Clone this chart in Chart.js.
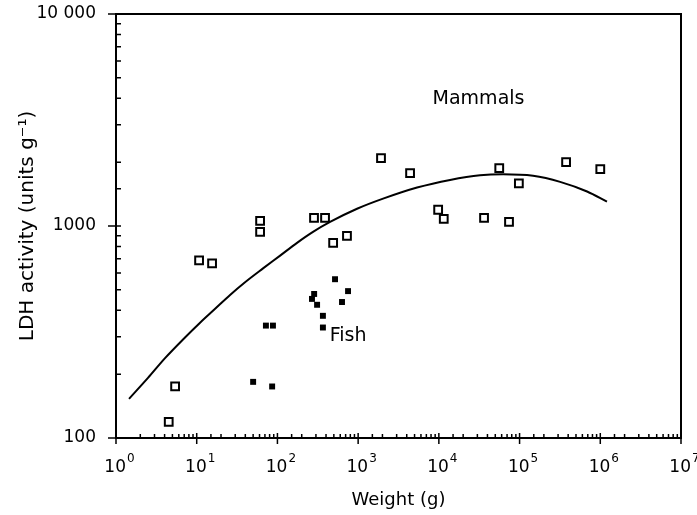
<!DOCTYPE html>
<html>
<head>
<meta charset="utf-8">
<script src="https://cdn.jsdelivr.net/npm/chart.js@4.4.0/dist/chart.umd.min.js"></script>
<style>
  html, body { margin: 0; padding: 0; background: #fff; }
  #wrap { width: 697px; height: 515px; }
</style>
</head>
<body>
<div id="wrap"><canvas id="chart"></canvas></div>
<script>
'use strict';

// mammals (open squares)
let mammalWeight = [4.5, 5.4, 10.7, 15.5, 61, 61, 284, 389, 490, 727, 1920, 4400, 9800, 11500, 36300, 56000, 74000, 98000, 377000, 1000000];
let mammalLDH = [119, 175, 688, 666, 1057, 938, 1092, 1092, 833, 898, 2091, 1774, 1193, 1080, 1092, 1874, 1045, 1588, 2002, 1853];

// fish (filled squares)
let fishWeight = [50, 86, 72, 88, 517, 750, 285, 268, 310, 631, 366, 366];
let fishLDH = [184, 175, 339, 339, 561, 493, 478, 453, 425, 438, 377, 332];

// fitted curve
let curveWeight = [1.45, 2.49, 4.05, 7.16, 11.0, 16.9, 25.9, 39.7, 66.3, 108, 175, 276, 449, 969, 2036, 5370, 13770, 32400, 62500, 147000, 318000, 686000, 1210000];
let curveLDH = [153, 192, 238, 298, 350, 407, 473, 543, 631, 725, 833, 938, 1045, 1206, 1346, 1519, 1650, 1735, 1754, 1725, 1615, 1454, 1302];

let xTickExp = ['0', '1', '2', '3', '4', '5', '6', '7'];
let yTickLabels = ['100', '1000', '10 000'];

let FONT = '"DejaVu Sans", Verdana, sans-serif';

function toPoints(xs, ys) {
  let pts = [];
  for (let i = 0; i < xs.length; i++) {
    pts.push({ x: xs[i], y: ys[i] });
  }
  return pts;
}

function isDecade(v) {
  let l = Math.log10(v);
  return Math.abs(l - Math.round(l)) < 1e-6;
}

// frame, inward ticks, x labels with superscripts, in-plot notes
const framePlugin = {
  id: 'frame',
  afterDraw(chart) {
    const ctx = chart.ctx;
    const a = chart.chartArea;
    const xs = chart.scales.x;
    const ys = chart.scales.y;
    ctx.save();
    ctx.strokeStyle = '#000';
    ctx.lineWidth = 2;
    ctx.strokeRect(a.left, a.top, a.right - a.left, a.bottom - a.top);

    ctx.lineWidth = 1.5;
    ctx.beginPath();
    xs.ticks.forEach(t => {
      const px = xs.getPixelForValue(t.value);
      if (isDecade(t.value)) {
        ctx.moveTo(px, a.bottom - 5);
        ctx.lineTo(px, a.bottom + 6);
      } else {
        ctx.moveTo(px, a.bottom);
        ctx.lineTo(px, a.bottom - 4);
      }
    });
    ys.ticks.forEach(t => {
      const py = ys.getPixelForValue(t.value);
      if (isDecade(t.value)) {
        ctx.moveTo(a.left - 8, py);
        ctx.lineTo(a.left + 5, py);
      } else {
        ctx.moveTo(a.left, py);
        ctx.lineTo(a.left + 5, py);
      }
    });
    ctx.stroke();

    // x tick labels: 10 with raised exponent
    ctx.fillStyle = '#000';
    ctx.textBaseline = 'alphabetic';
    for (let i = 0; i < xTickExp.length; i++) {
      const px = xs.getPixelForValue(Math.pow(10, i));
      ctx.font = '17px ' + FONT;
      const w1 = ctx.measureText('10').width;
      ctx.font = '12px ' + FONT;
      const w2 = ctx.measureText(xTickExp[i]).width;
      const left = px - (w1 + w2) / 2 + 3;
      ctx.font = '17px ' + FONT;
      ctx.textAlign = 'left';
      ctx.fillText('10', left, 472);
      ctx.font = '12px ' + FONT;
      ctx.fillText(xTickExp[i], left + w1 + 1, 462);
    }

    // notes in the plot
    ctx.font = '19px ' + FONT;
    ctx.textAlign = 'center';
    ctx.textBaseline = 'middle';
    ctx.fillText('Mammals', xs.getPixelForValue(31000), ys.getPixelForValue(3980));
    ctx.fillText('Fish', xs.getPixelForValue(750), ys.getPixelForValue(301));
    ctx.restore();
  }
};

const ctx = document.getElementById('chart');

let config = {
  type: 'scatter',
  data: {
    datasets: [
      {
        label: 'fit',
        data: toPoints(curveWeight, curveLDH),
        showLine: true,
        borderColor: '#000',
        borderWidth: 2,
        pointRadius: 0,
        cubicInterpolationMode: 'monotone',
        fill: false
      },
      {
        label: 'Mammals',
        data: toPoints(mammalWeight, mammalLDH),
        pointStyle: 'rect',
        pointRadius: 5.5,
        backgroundColor: '#fff',
        borderColor: '#000',
        borderWidth: 2
      },
      {
        label: 'Fish',
        data: toPoints(fishWeight, fishLDH),
        pointStyle: 'rect',
        pointRadius: 4.2,
        backgroundColor: '#000',
        borderColor: '#000',
        borderWidth: 0
      }
    ]
  },
  options: {
    responsive: true,
    maintainAspectRatio: false,
    animation: false,
    events: [],
    layout: { padding: { left: 0, right: 16, top: 14, bottom: 0 } },
    plugins: {
      legend: { display: false },
      tooltip: { enabled: false }
    },
    scales: {
      x: {
        type: 'logarithmic',
        min: 1,
        max: 10000000,
        grid: { display: false },
        border: { display: false },
        ticks: { display: false },
        title: {
          display: true,
          text: 'Weight (g)',
          color: '#000',
          font: { family: FONT, size: 18 },
          padding: { top: 0, bottom: 4 }
        },
        afterFit(scale) {
          scale.height = 77;
          scale.paddingLeft = 0;
          scale.paddingRight = 0;
        }
      },
      y: {
        type: 'logarithmic',
        min: 100,
        max: 10000,
        grid: { display: false },
        border: { display: false },
        ticks: {
          autoSkip: false,
          color: '#000',
          padding: 12,
          font: { family: FONT, size: 17 },
          callback: function (value) {
            if (value === 100) return yTickLabels[0];
            if (value === 1000) return yTickLabels[1];
            if (value === 10000) return yTickLabels[2];
            return '';
          }
        },
        title: {
          display: true,
          text: 'LDH activity (units g\u207B\u00B9)',
          color: '#000',
          font: { family: FONT, size: 20 },
          padding: { top: 16, bottom: 0 }
        },
        afterFit(scale) {
          scale.width = 116;
          scale.paddingTop = 0;
          scale.paddingBottom = 0;
        }
      }
    }
  },
  plugins: [framePlugin]
};

new Chart(ctx, config);
</script>
</body>
</html>
